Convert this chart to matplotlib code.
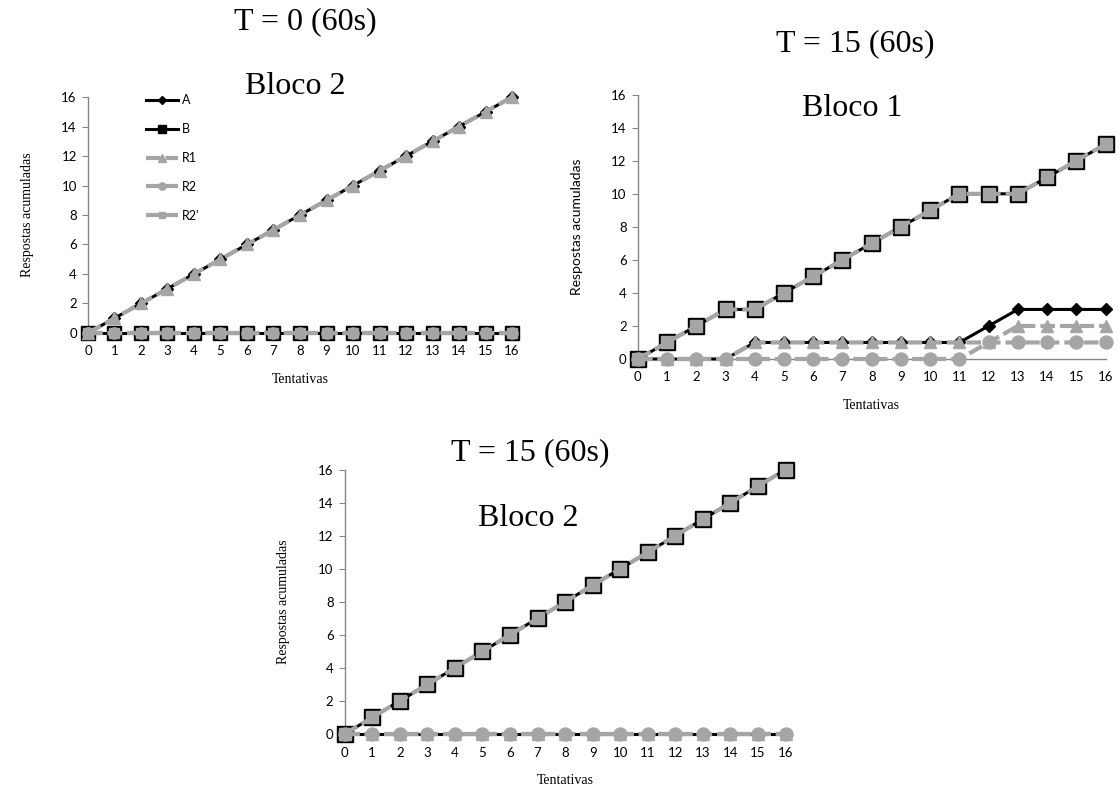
import matplotlib.pyplot as plt
import numpy as np

# trial numbers
tentativas = np.arange(17)

# T = 0 (60s), Bloco 2
t0_b2_A = list(range(17))
t0_b2_B = [0] * 17
t0_b2_R1 = list(range(17))
t0_b2_R2 = [0] * 17
t0_b2_R2l = [0] * 17

# T = 15 (60s), Bloco 1
t15_b1_A = [0, 0, 0, 0, 1, 1, 1, 1, 1, 1, 1, 1, 2, 3, 3, 3, 3]
t15_b1_B = [0, 1, 2, 3, 3, 4, 5, 6, 7, 8, 9, 10, 10, 10, 11, 12, 13]
t15_b1_R1 = [0, 0, 0, 0, 1, 1, 1, 1, 1, 1, 1, 1, 1, 2, 2, 2, 2]
t15_b1_R2 = [0, 0, 0, 0, 0, 0, 0, 0, 0, 0, 0, 0, 1, 1, 1, 1, 1]
t15_b1_R2l = [0, 1, 2, 3, 3, 4, 5, 6, 7, 8, 9, 10, 10, 10, 11, 12, 13]

# T = 15 (60s), Bloco 2
t15_b2_A = [0] * 17
t15_b2_B = list(range(17))
t15_b2_R1 = [0] * 17
t15_b2_R2 = [0] * 17
t15_b2_R2l = list(range(17))

GRAY = '#a5a5a5'
TICK_FONT = 'Lato'
SERIF = 'Liberation Serif'


def draw(ax, A, B, R1, R2, R2l, ms, ylab_serif=True):
    ax.plot(tentativas, A, color='black', lw=2.2, marker='D', ms=ms * 0.6,
            label='A', clip_on=False, zorder=3)
    ax.plot(tentativas, B, color='black', lw=2.2, marker='s', ms=ms,
            label='B', clip_on=False, zorder=4)
    ax.plot(tentativas, R1, color=GRAY, lw=3, ls=(0, (3.5, 1.2)), marker='^',
            ms=ms * 0.85, label='R1', clip_on=False, zorder=5)
    ax.plot(tentativas, R2, color=GRAY, lw=3, ls=(0, (3.5, 1.2)), marker='o',
            ms=ms * 0.85, label='R2', clip_on=False, zorder=6)
    ax.plot(tentativas, R2l, color=GRAY, lw=3, ls=(0, (3.5, 1.2)), marker='s',
            ms=ms * 0.8, label="R2'", clip_on=False, zorder=7)

    ax.set_xlim(0, 16)
    ax.set_ylim(0, 16)
    ax.set_xticks(range(17))
    ax.set_yticks(range(0, 17, 2))
    for side in ('top', 'right'):
        ax.spines[side].set_visible(False)
    for side in ('left', 'bottom'):
        ax.spines[side].set_color('#868686')
        ax.spines[side].set_linewidth(1)
    ax.tick_params(axis='y', length=4, color='#868686', labelsize=9.5, pad=4)
    ax.tick_params(axis='x', length=0, labelsize=9.5, pad=9)
    for lab in ax.get_xticklabels() + ax.get_yticklabels():
        lab.set_family(TICK_FONT)
    ax.set_xlabel('Tentativas', family=SERIF, fontsize=10, labelpad=11)
    ax.set_ylabel('Respostas acumuladas',
                  family=SERIF if ylab_serif else TICK_FONT,
                  fontsize=10, labelpad=20)


fig = plt.figure(figsize=(11.19, 7.89), dpi=100)

ax1 = fig.add_axes([0.0786, 0.578, 0.379, 0.299])
draw(ax1, t0_b2_A, t0_b2_B, t0_b2_R1, t0_b2_R2, t0_b2_R2l, ms=9.5)
ax1.legend(loc='upper left', bbox_to_anchor=(0.11, 1.06), frameon=False,
           prop={'family': TICK_FONT, 'size': 9}, handlelength=2.6,
           labelspacing=1.35, handletextpad=0.3, markerscale=0.65)

ax2 = fig.add_axes([0.570, 0.545, 0.418, 0.335])
draw(ax2, t15_b1_A, t15_b1_B, t15_b1_R1, t15_b1_R2, t15_b1_R2l, ms=11,
     ylab_serif=False)

ax3 = fig.add_axes([0.308, 0.0697, 0.394, 0.335])
draw(ax3, t15_b2_A, t15_b2_B, t15_b2_R1, t15_b2_R2, t15_b2_R2l, ms=11)

# panel titles
title_kw = dict(family=SERIF, fontsize=23, ha='center', va='center')
fig.text(305 / 1119, 1 - 22 / 789, 'T = 0 (60s)', **title_kw)
fig.text(295 / 1119, 1 - 87 / 789, 'Bloco 2', **title_kw)
fig.text(855 / 1119, 1 - 44 / 789, 'T = 15 (60s)', **title_kw)
fig.text(852 / 1119, 1 - 109 / 789, 'Bloco 1', **title_kw)
fig.text(530 / 1119, 1 - 453 / 789, 'T = 15 (60s)', **title_kw)
fig.text(528 / 1119, 1 - 518 / 789, 'Bloco 2', **title_kw)

fig.savefig('out.png', dpi=100)
